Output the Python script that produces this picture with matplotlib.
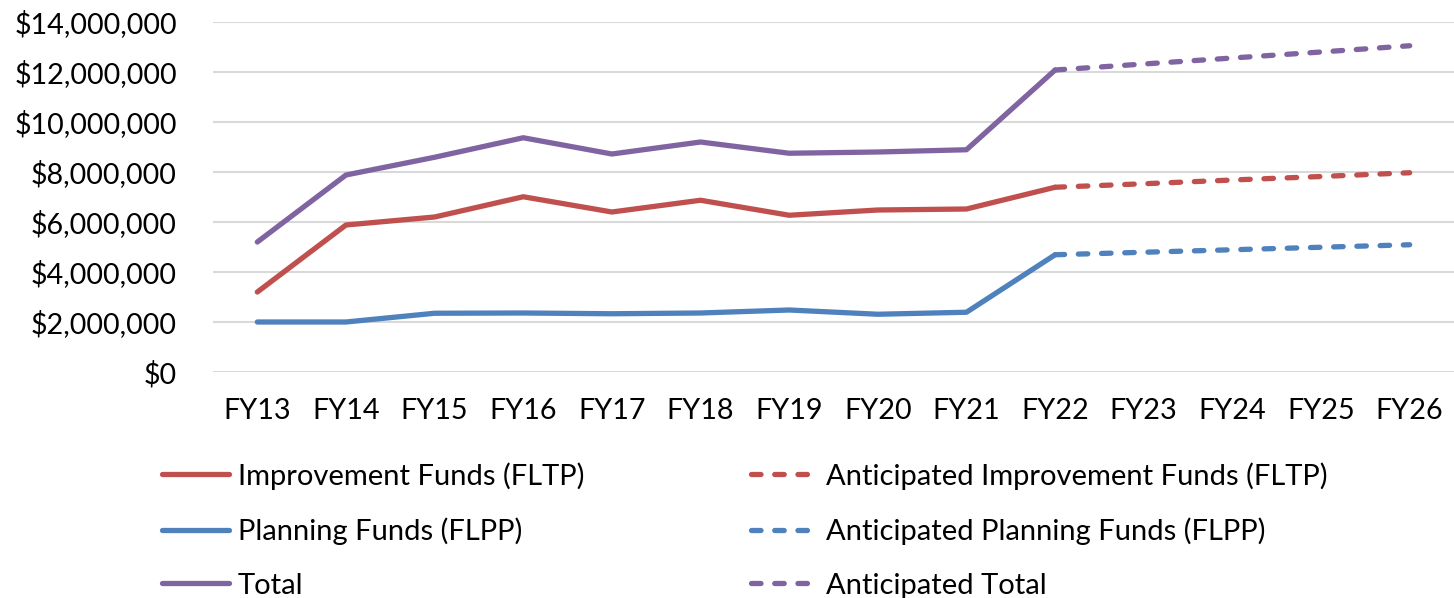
import matplotlib.pyplot as plt
from matplotlib.ticker import FuncFormatter

years = ["FY13", "FY14", "FY15", "FY16", "FY17", "FY18", "FY19",
         "FY20", "FY21", "FY22", "FY23", "FY24", "FY25", "FY26"]

# actuals FY13-FY22 (in dollars)
improvement = [3200000, 5880000, 6200000, 7010000, 6400000, 6870000, 6270000,
               6480000, 6520000, 7390000]
planning = [2000000, 2000000, 2350000, 2360000, 2330000, 2360000, 2480000,
            2310000, 2390000, 4690000]
total = [5200000, 7880000, 8590000, 9370000, 8720000, 9200000, 8750000,
         8800000, 8890000, 12080000]

# anticipated FY22-FY26
ant_improvement = [7390000, 7530000, 7680000, 7820000, 7970000]
ant_planning = [4690000, 4790000, 4890000, 4990000, 5090000]
ant_total = [12080000, 12320000, 12560000, 12800000, 13050000]

red = "#C0504D"
blue = "#4F81BD"
purple = "#8064A2"

plt.rcParams["font.family"] = ["Lato", "DejaVu Sans"]
fig = plt.figure(figsize=(14.54, 5.98), dpi=100)
ax = fig.add_axes([213 / 1454, 1 - 372 / 598, 1 - 213 / 1454, 350 / 598])

x_act = list(range(len(improvement)))
x_ant = list(range(9, 9 + len(ant_improvement)))
lw = 3.8

h1, = ax.plot(x_act, improvement, color=red, lw=lw, solid_capstyle="round",
              label="Improvement Funds (FLTP)")
h2, = ax.plot(x_act, planning, color=blue, lw=lw, solid_capstyle="round",
              label="Planning Funds (FLPP)")
h3, = ax.plot(x_act, total, color=purple, lw=lw, solid_capstyle="round",
              label="Total")
d1, = ax.plot(x_ant, ant_improvement, color=red, lw=lw, dashes=(1.8, 2.6),
              dash_capstyle="round", label="Anticipated Improvement Funds (FLTP)")
d2, = ax.plot(x_ant, ant_planning, color=blue, lw=lw, dashes=(1.8, 2.6),
              dash_capstyle="round", label="Anticipated Planning Funds (FLPP)")
d3, = ax.plot(x_ant, ant_total, color=purple, lw=lw, dashes=(1.8, 2.6),
              dash_capstyle="round", label="Anticipated Total")

ax.set_xlim(-0.5, len(years) - 0.5)
ax.set_ylim(0, 14000000)
ax.set_yticks(range(0, 14000001, 2000000))
ax.yaxis.set_major_formatter(FuncFormatter(lambda v, p: f"${v:,.0f}"))
ax.set_xticks(range(len(years)))
ax.set_xticklabels(years)
ax.tick_params(length=0, labelsize=20.7, pad=26)
ax.tick_params(axis="x", pad=19)
ax.grid(axis="y", color="#D9D9D9", lw=1.5)
ax.set_axisbelow(True)
for s in ax.spines.values():
    s.set_visible(False)

fig.legend(handles=[h1, h2, h3, d1, d2, d3], ncol=2, frameon=False,
           fontsize=21, loc="upper left", bbox_to_anchor=(162 / 1454, 1 - 462 / 598),
           handlelength=2.3, handletextpad=0.3, columnspacing=5.7,
           labelspacing=0.95, borderaxespad=0, borderpad=0)

plt.savefig("out.png", dpi=100)
